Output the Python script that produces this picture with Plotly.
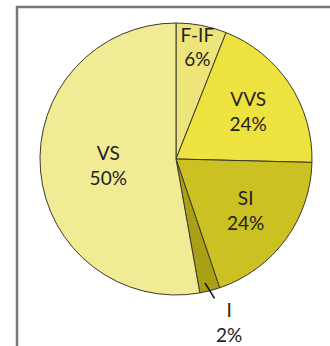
import plotly.graph_objects as go

categories = ["F-IF", "VVS", "SI", "I", "VS"]
values = [6.0, 19.4, 19.4, 2.4, 52.8]
pct_labels = ["6%", "24%", "24%", "2%", "50%"]
colors = ["#EEE57A", "#EEE23E", "#CCC122", "#AAA016", "#F2EB96"]

texts = [f"{c}<br>{p}" if c != "I" else "" for c, p in zip(categories, pct_labels)]

W, H = 330, 346
cx, cy, r = 176, 159, 136

fig = go.Figure(go.Pie(
    labels=categories,
    values=values,
    text=texts,
    texttemplate="%{text}",
    textposition="inside",
    insidetextorientation="horizontal",
    sort=False,
    direction="clockwise",
    rotation=0,
    marker=dict(colors=colors, line=dict(color="#3a3a2a", width=1)),
    textfont=dict(family="Lato", size=19, color="#222222"),
    hoverinfo="label+percent",
    showlegend=False,
    domain=dict(x=[(cx - r) / W, (cx + r) / W], y=[1 - (cy + r) / H, 1 - (cy - r) / H]),
))

i_idx = categories.index("I")
fig.add_annotation(
    x=205 / W, y=1 - 283 / H, xref="paper", yref="paper",
    ax=24, ay=39, showarrow=True, arrowhead=0, arrowwidth=1.5, arrowcolor="#111111",
    text=f"{categories[i_idx]}<br>{pct_labels[i_idx]}",
    font=dict(family="Lato", size=19, color="#222222"),
)

fig.add_shape(type="rect", xref="paper", yref="paper",
              x0=17 / W, x1=1.1, y0=-0.1, y1=1 - 7 / H,
              line=dict(color="#777777", width=2.5), fillcolor="rgba(0,0,0,0)", layer="below")

fig.update_layout(width=W, height=H, margin=dict(l=0, r=0, t=0, b=0),
                  paper_bgcolor="white", plot_bgcolor="white",
                  uniformtext=dict(minsize=19, mode="show"))
fig.write_html("out.html")
